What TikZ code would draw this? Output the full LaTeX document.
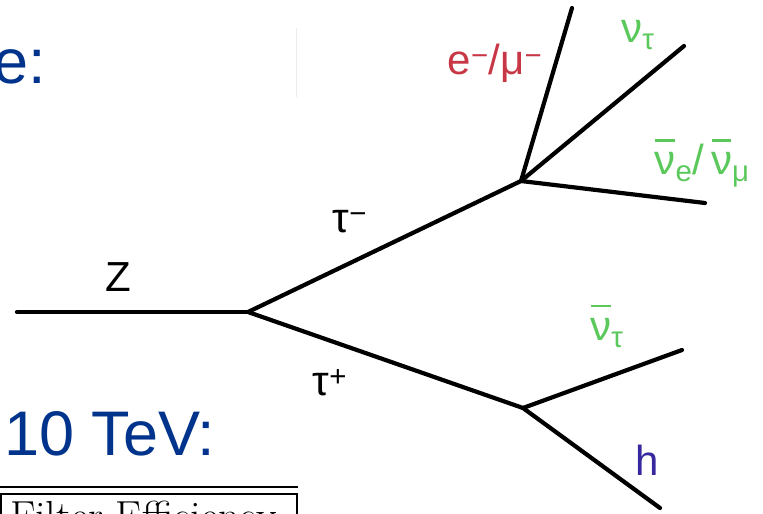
\documentclass[tikz,border=0pt]{standalone}
\usepackage{fontspec}
\newfontfamily\sansf{Liberation Sans}
\definecolor{titleblue}{RGB}{0,51,140}
\definecolor{lepred}{RGB}{200,55,70}
\definecolor{nugreen}{RGB}{90,200,90}
\definecolor{hadblue}{RGB}{55,40,160}
\newcommand{\nubar}{\leavevmode\rlap{\hspace{0.02em}\raisebox{0.78em}{\rule{0.46em}{0.07em}}}ν}
\begin{document}
\begin{tikzpicture}[x=1pt,y=-1pt,
  prop/.style={line width=4.2pt, line cap=round, line join=round},
  lbl/.style={font=\sansf\fontsize{42}{46}\selectfont, inner sep=0pt},
  big/.style={font=\sansf\fontsize{63}{70}\selectfont, text=titleblue, inner sep=0pt},
  tabline/.style={line width=1.2pt}]
\useasboundingbox (0,0) rectangle (763,514);
% headings
\node[big, anchor=base east] (hdA) at (46,83) {e:};
\node[big, anchor=base west] (hdB) at (4,455) {10 TeV:};
\draw[gray!15, line width=0.8pt] (296,28) -- (296,97);
% table fragment
\coordinate (tl1) at (0,487); \coordinate (tr1) at (298,487);
\coordinate (tl2) at (0,494); \coordinate (tr2) at (298,494);
\coordinate (bl) at (1,520); \coordinate (br) at (297,520);
\draw[tabline] (tl1) -- (tr1);
\draw[tabline] (tl2) -- (tr2);
\draw[tabline] (1,494) -- (bl);
\draw[tabline] (297,494) -- (br);
\node[anchor=north west, inner sep=0pt, font=\fontsize{42}{46}\selectfont] (fe) at (10,501) {Filter Efficiency};
% diagram
\coordinate (zin) at (17,312);
\coordinate (v1) at (248,312);
\coordinate (v2) at (521,181);
\coordinate (v3) at (523,408);
\coordinate (em) at (572,8);
\coordinate (nt) at (684,46);
\coordinate (ne) at (705,203);
\coordinate (ntb) at (682,350);
\coordinate (hh) at (660,508);
\draw[prop] (zin) -- (v1);
\draw[prop] (v1) -- (v2);
\draw[prop] (v1) -- (v3);
\draw[prop] (v2) -- (em);
\draw[prop] (v2) -- (nt);
\draw[prop] (v2) -- (ne);
\draw[prop] (v3) -- (ntb);
\draw[prop] (v3) -- (hh);
% labels
\node[lbl] (lZ) at (118,277) {Z};
\node[lbl] (ltm) at (350,222) {τ\textsuperscript{−}};
\node[lbl] (ltp) at (330,383) {τ\textsuperscript{+}};
\node[lbl, text=lepred] (lem) at (495,63) {e\textsuperscript{−}/μ\textsuperscript{−}};
\node[lbl, text=nugreen] (lnt) at (638,35) {ν\textsubscript{τ}};
\node[lbl, text=nugreen] (lne) at (702,163) {\nubar\textsubscript{e}/\,\nubar\textsubscript{μ}};
\node[lbl, text=nugreen] (lntb) at (607,326) {\nubar\textsubscript{τ}};
\node[lbl, text=hadblue] (lh) at (647,460) {h};
\end{tikzpicture}
\end{document}
